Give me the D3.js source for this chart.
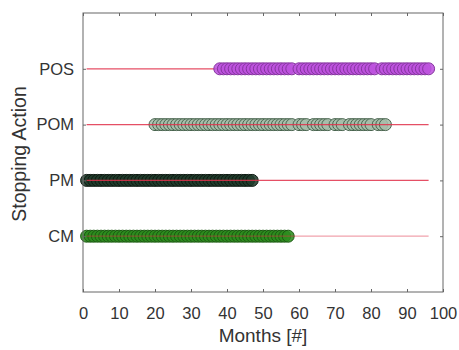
<!DOCTYPE html>
<html><head><meta charset="utf-8">
<script src="https://cdn.jsdelivr.net/npm/d3@7"></script>
<style>body{margin:0;background:#fff}svg{display:block}text{font-family:"Liberation Sans",Arial,sans-serif;fill:#333}</style>
</head><body><svg id="c" width="459" height="350"></svg>
<script>
const categories = ["CM", "PM", "POM", "POS"];
const xTicks = [0,10,20,30,40,50,60,70,80,90,100];
const lineStart = 1, lineEnd = 96;
const cmMonths = [1,2,3,4,5,6,7,8,9,10,11,12,13,14,15,16,17,18,19,20,21,22,23,24,25,26,27,28,29,30,31,32,33,34,35,36,37,38,39,40,41,42,43,44,45,46,47,48,49,50,51,52,53,54,55,56,57];
const pmMonths = [1,2,3,4,5,6,7,8,9,10,11,12,13,14,15,16,17,18,19,20,21,22,23,24,25,26,27,28,29,30,31,32,33,34,35,36,37,38,39,40,41,42,43,44,45,46,47];
const pomMonths = [20,21,22,23,24,25,26,27,28,29,30,31,32,33,34,35,36,37,38,39,40,41,42,43,44,45,46,47,48,49,50,51,52,53,54,55,56,57,58,60,61,62,64,65,66,67,68,70,71,72,74,75,76,77,78,79,80,82,83,84];
const posMonths = [38,39,40,41,42,43,44,45,46,47,48,49,50,51,52,53,54,55,56,57,58,60,61,62,63,64,65,66,67,68,69,70,71,72,73,74,75,76,77,78,79,80,81,83,84,85,86,87,88,89,90,91,92,93,94,95,96];
const seriesMonths = [cmMonths, pmMonths, pomMonths, posMonths];
const fills = ["#2b8c1c", "#1f3a2a", "#a6bdaa", "#bd52de"];
const strokes = ["#1c5a12", "#0e1a12", "#48644e", "#86359f"];
const lineOnTop = [true, true, true, false];

const svg = d3.select("#c");
const m = {l:83, r:443, t:13, b:292};
const x = d3.scaleLinear().domain([0,100]).range([m.l, m.r]);
const y = d3.scaleLinear().domain([0,5]).range([m.b, m.t]);

function drawLine(i){
  svg.append("line").attr("x1", x(lineStart)).attr("x2", x(lineEnd))
    .attr("y1", y(i+1)).attr("y2", y(i+1))
    .attr("stroke", "#e0304a").attr("stroke-width", 1.2)
    .attr("stroke-opacity", i===0 ? 0.45 : 0.85);
}
categories.forEach((c,i)=>{
  if(!lineOnTop[i]) drawLine(i);
  svg.append("g").selectAll("circle").data(seriesMonths[i]).join("circle")
    .attr("cx", d=>x(d)).attr("cy", y(i+1)).attr("r", 6)
    .attr("fill", fills[i]).attr("fill-opacity", 0.88)
    .attr("stroke", strokes[i]).attr("stroke-width", 1);
  if(lineOnTop[i]) drawLine(i);
});

svg.append("rect").attr("x", m.l).attr("y", m.t).attr("width", m.r-m.l).attr("height", m.b-m.t)
  .attr("fill","none").attr("stroke","#666").attr("stroke-width",1);

const xb = svg.append("g").attr("transform",`translate(0,${m.b})`)
  .call(d3.axisBottom(x).tickValues(xTicks).tickSize(-3).tickPadding(15).tickFormat(d3.format("d")));
const xt = svg.append("g").attr("transform",`translate(0,${m.t})`)
  .call(d3.axisTop(x).tickValues(xTicks).tickSize(-3).tickFormat(""));
const yl = svg.append("g").attr("transform",`translate(${m.l},0)`)
  .call(d3.axisLeft(y).tickValues([1,2,3,4]).tickSize(-3).tickPadding(9).tickFormat(d=>categories[d-1]));
const yr = svg.append("g").attr("transform",`translate(${m.r},0)`)
  .call(d3.axisRight(y).tickValues([1,2,3,4]).tickSize(-3).tickFormat(""));
[xb,xt,yl,yr].forEach(g=>{
  g.select(".domain").remove();
  g.selectAll(".tick line").attr("stroke","#666");
  g.selectAll("text").attr("font-size",16.5).attr("fill","#333")
   .style("font-family","'Liberation Sans',Arial,sans-serif");
});

svg.append("text").attr("x", x(50)).attr("y", 342).attr("text-anchor","middle")
  .attr("font-size",19).text("Months [#]");
svg.append("text").attr("transform",`translate(26,${154}) rotate(-90)`)
  .attr("text-anchor","middle").attr("font-size",19.5).text("Stopping Action");
</script></body></html>
